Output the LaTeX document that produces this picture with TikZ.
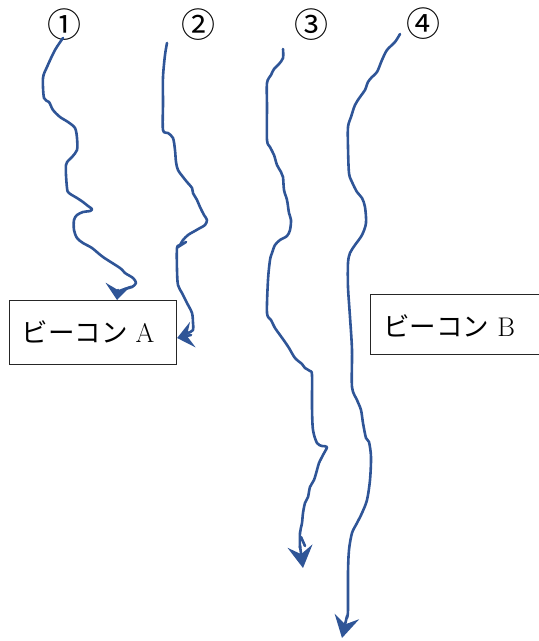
\documentclass[tikz,border=0pt]{standalone}
\usepackage{fontspec}
\newfontfamily\cjk{Noto Sans CJK JP}
\usetikzlibrary{arrows.meta}
\definecolor{route}{HTML}{2F5597}
\tikzset{
  routeline/.style={draw=route, line width=2.6pt, line cap=round, line join=round},
  beacon/.style={draw=black!85, line width=1.1pt, minimum height=64pt, inner sep=0pt},
  numlabel/.style={inner sep=0pt, font=\cjk\fontsize{34}{34}\selectfont},
  beacontext/.style={inner sep=0pt, font=\fontsize{27}{27}\selectfont},
  tipA/.style={-{Stealth[length=16pt,width=26pt,inset=6pt]}},
  tipB/.style={-{Stealth[length=22pt,width=25pt,inset=8pt]}}
}
\begin{document}
\begin{tikzpicture}[x=1pt,y=-1pt]
\useasboundingbox (0,0) rectangle (539,641);
% beacons
\node[beacon, minimum width=167pt, anchor=north west] (boxA) at (9,300) {};
\node[beacontext] (tA) at (88,332) {{\cjk\fontsize{26.5}{26.5}\selectfont ビーコン} A};
\node[beacon, minimum width=175pt, minimum height=60pt, anchor=north west] (boxB) at (370,294) {};
\node[beacontext] (tB) at (449,326) {{\cjk\fontsize{26.5}{26.5}\selectfont ビーコン} B};
% labels
\node[numlabel] (n1) at (65,25) {①};
\node[numlabel] (n2) at (198,25) {②};
\node[numlabel] (n3) at (311,25) {③};
\node[numlabel] (n4) at (423,24) {④};
% route 1
\draw[routeline] plot[smooth, tension=0.5] coordinates {(63,38) (55,50) (47,67) (43,78) (44,98) (49,102) (53,110) (60,117) (68,122) (75,128) (77,138) (77,150) (72,157) (66,165) (67,188) (69,193) (77,198) (83,202) (88,206) (92,209) (90,211) (83,212) (77,215) (74,220) (74,230) (77,238) (83,243) (92,248) (103,257) (120,268) (125,273) (133,278) (136,283) (132,287) (125,289) (120,292) (118,294)};
\coordinate (e1) at (118,290);
\draw[routeline, tipA] (e1) -- (boxA.north -| 117,0);
% route 2
\draw[routeline] plot[smooth, tension=0.5] coordinates {(167,43) (165,55) (163,77) (163,103) (163,130) (168,133) (173,138) (175,150) (176,162) (178,170) (183,177) (187,182) (192,188) (193,193) (197,200) (200,207) (204,215) (207,220) (205,225) (200,228) (193,232) (188,235) (183,240) (180,245) (177,248) (177,270) (178,285) (182,293) (187,303) (192,313) (193,323) (193,330) (188,333) (184,335)};
\draw[routeline] (178,247) -- (186,242);
\coordinate (e2) at (191,335);
\draw[routeline, tipA] (e2) -- (boxA.east |- 0,338);
% route 3
\draw[routeline] plot[smooth, tension=0.5] coordinates {(283,49) (283,58) (279,64) (274,69) (271,75) (267,83) (267,107) (267,140) (270,147) (274,155) (277,165) (281,172) (283,177) (284,190) (287,200) (289,213) (291,220) (290,230) (287,236) (280,240) (275,245) (272,253) (270,260) (268,280) (267,313) (271,320) (275,328) (280,335) (285,342) (289,348) (295,358) (302,364) (305,368) (310,371) (312,375) (312,407) (313,430) (317,443) (322,446) (327,447) (323,455) (319,463) (317,470) (314,480) (310,487) (308,497) (305,503) (303,513) (302,523) (300,533) (300,548)};
\draw[routeline] (301,537) -- (305,546);
\coordinate (e3) at (300,546);
\coordinate (t3) at (303,568);
\draw[routeline, tipB] (e3) -- (t3);
% route 4
\draw[routeline] plot[smooth, tension=0.5] coordinates {(400,34) (395,42) (387,50) (382,60) (377,72) (372,77) (368,82) (365,90) (360,97) (355,105) (351,117) (348,127) (348,147) (349,173) (352,182) (357,192) (362,198) (365,207) (366,223) (362,235) (355,245) (350,253) (348,263) (348,287) (350,317) (352,350) (352,387) (357,400) (361,410) (363,423) (366,438) (369,442) (371,457) (370,480) (367,500) (362,513) (357,523) (352,533) (349,550) (348,573) (348,610) (347,618)};
\coordinate (e4) at (347,616);
\coordinate (t4) at (342,638);
\draw[routeline, tipB] (e4) -- (t4);
\end{tikzpicture}
\end{document}
